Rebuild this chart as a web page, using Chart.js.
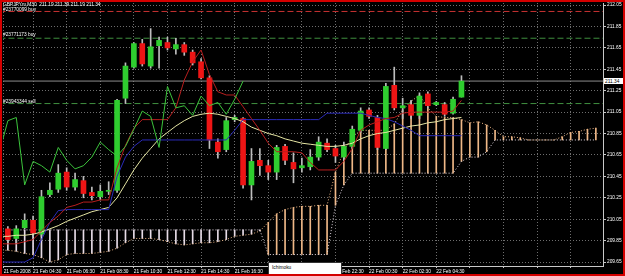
<!DOCTYPE html>
<html>
<head>
<meta charset="utf-8">
<script src="https://cdn.jsdelivr.net/npm/chart.js@4.4.1/dist/chart.umd.min.js"></script>
<style>
html, body { margin: 0; padding: 0; background: #000; }
#frame { position: relative; width: 625px; height: 276px; box-sizing: border-box; border: 2px solid #d40000; background: #000; overflow: hidden; }
#frame canvas { position: absolute; left: 0; top: 0; }
.txt { position: absolute; font-family: "Liberation Sans", Arial, sans-serif; font-size: 4.8px; line-height: 5px; color: #fff; white-space: nowrap; }
#tip { position: absolute; left: 266px; top: 260px; width: 74px; height: 20px; background: #fff; border: 1px solid #333; box-sizing: border-box; }
#tip .txt { color: #000; }
#bidbox { position: absolute; left: 602px; top: 76px; width: 19px; height: 6px; background: #fff; box-sizing: border-box; }
#bidbox .txt { color: #000; left: 1px; top: 0.5px; }
</style>
</head>
<body>
<div id="frame">
  <canvas id="chart" width="621" height="272"></canvas>
  <div class="txt" style="left:1px; top:0px;">GBPJPYm,M30&nbsp; 211.19 211.39 211.19 211.34</div>
  <div class="txt" style="left:1px; top:5px;">#23770099 buy</div>
  <div class="txt" style="left:1px; top:30px;">#23771173 buy</div>
  <div class="txt" style="left:1px; top:97px;">#23943344 sell</div>
  <div id="bidbox"><div class="txt">211.34</div></div>
  <div id="tip"><div class="txt" style="left:3px; top:2px;">Ichimoku</div></div>
</div>
<script>
// GBPJPYm M30, bar 0 = 21 Feb 03:00, last bar = 22 Feb 06:00

const opens = [209.96, 209.87, 209.97, 210.04, 209.91, 210.28, 210.33, 210.49, 210.35, 210.41,
  210.30, 210.26, 210.31, 210.32, 211.18, 211.47, 211.69, 211.48, 211.67, 211.70,
  211.64, 211.68, 211.61, 211.52, 211.37, 210.77, 210.70, 210.98, 210.99, 210.37,
  210.60, 210.55, 210.49, 210.73, 210.58, 210.53, 210.54, 210.63, 210.76, 210.71,
  210.63, 210.73, 210.88, 211.07, 211.00, 210.71, 211.30, 211.09, 211.12, 211.02,
  211.22, 211.12, 211.12, 211.04, 211.19];
const highs = [209.98, 209.99, 210.10, 210.08, 210.32, 210.39, 210.56, 210.53, 210.48, 210.45,
  210.35, 210.37, 210.40, 211.17, 211.51, 211.70, 211.73, 211.83, 211.75, 211.75,
  211.74, 211.70, 211.63, 211.55, 211.39, 210.80, 211.00, 211.02, 211.00, 210.71,
  210.71, 210.60, 210.74, 210.75, 210.67, 210.62, 210.70, 210.82, 210.80, 210.74,
  210.77, 210.92, 211.09, 211.09, 211.02, 211.32, 211.47, 211.18, 211.16, 211.23,
  211.24, 211.15, 211.14, 211.19, 211.39];
const lows = [209.82, 209.82, 209.96, 209.89, 209.89, 210.26, 210.30, 210.32, 210.32, 210.25,
  210.23, 210.23, 210.28, 210.30, 211.13, 211.46, 211.48, 211.46, 211.46, 211.63,
  211.59, 211.58, 211.49, 211.36, 210.71, 210.62, 210.68, 210.96, 210.34, 210.23,
  210.46, 210.42, 210.42, 210.56, 210.39, 210.49, 210.51, 210.60, 210.68, 210.58,
  210.60, 210.71, 210.86, 210.99, 210.70, 210.70, 211.07, 210.99, 210.99, 210.99,
  211.09, 211.11, 211.01, 211.03, 211.19];
const closes = [209.86, 209.96, 210.04, 209.92, 210.26, 210.32, 210.48, 210.35, 210.42, 210.29,
  210.27, 210.31, 210.32, 211.16, 211.48, 211.69, 211.50, 211.66, 211.72, 211.65,
  211.68, 211.61, 211.51, 211.37, 210.79, 210.68, 210.97, 211.00, 210.37, 210.59,
  210.55, 210.49, 210.72, 210.60, 210.52, 210.55, 210.63, 210.77, 210.70, 210.64,
  210.73, 210.89, 211.06, 211.01, 210.72, 211.29, 211.09, 211.11, 211.02, 211.20,
  211.11, 211.14, 211.03, 211.17, 211.34];

// indicator lines, first value sits one bar left of bar 0
const tenkan = [209.82, 209.82, 209.82, 209.84, 209.86, 209.94, 210.02, 210.08, 210.16, 210.18,
  210.21, 210.21, 210.23, 210.23, 210.53, 210.74, 210.90, 210.98, 210.98, 210.98,
  210.98, 211.09, 211.35, 211.52, 211.63, 211.40, 211.24, 211.21, 211.21, 211.10,
  210.99, 210.88, 210.76, 210.68, 210.68, 210.68, 210.67, 210.58, 210.51, 210.51,
  210.51, 210.59, 210.71, 210.88, 210.93, 210.96, 210.99, 211.00, 211.04, 211.05,
  211.05, 211.05, 211.05, 211.05, 211.06, 211.16];
const kijun = [209.65, 209.65, 209.65, 209.65, 209.69, 209.86, 210.02, 210.13, 210.14, 210.14,
  210.14, 210.14, 210.14, 210.14, 210.45, 210.63, 210.73, 210.79, 210.79, 210.79,
  210.79, 210.79, 210.79, 210.79, 210.79, 210.79, 210.79, 210.79, 210.88, 210.98,
  210.98, 210.98, 210.98, 210.98, 210.98, 210.98, 210.98, 210.98, 210.98, 211.04,
  211.04, 211.04, 211.04, 211.04, 211.02, 211.00, 210.99, 210.96, 210.92, 210.88,
  210.83, 210.83, 210.83, 210.83, 210.83, 210.83];
const maLine = [209.89, 209.89, 209.90, 209.90, 209.91, 209.93, 209.96, 209.99, 210.03, 210.06,
  210.09, 210.12, 210.14, 210.16, 210.25, 210.38, 210.51, 210.62, 210.71, 210.80,
  210.86, 210.92, 210.97, 211.01, 211.03, 211.04, 211.03, 211.01, 210.99, 210.96,
  210.91, 210.88, 210.85, 210.83, 210.80, 210.78, 210.76, 210.75, 210.74, 210.73,
  210.73, 210.74, 210.76, 210.80, 210.83, 210.85, 210.86, 210.88, 210.90, 210.92,
  210.93, 210.95, 210.96, 210.98, 210.99, 211.00];
// chikou span, starts one bar left of bar 0
const chikou = [210.68, 210.97, 211.00, 210.37, 210.59, 210.55, 210.49, 210.72, 210.60, 210.52,
  210.55, 210.63, 210.77, 210.70, 210.64, 210.73, 210.89, 211.06, 211.01, 210.72,
  211.29, 211.09, 211.11, 211.02, 211.20, 211.11, 211.14, 211.03, 211.17, 211.34];

// kumo, one bar left of bar 0 up to 16 bars past the last candle
const spanA = [209.76, 209.76, 209.75, 209.73, 209.72, 209.69, 209.65, 209.67, 209.72, 209.73,
  209.73, 209.73, 209.74, 209.75, 209.78, 209.83, 209.87, 209.87, 209.87, 209.86,
  209.84, 209.82, 209.81, 209.82, 209.83, 209.83, 209.84, 209.86, 209.89, 209.90,
  209.91, 209.94, 210.02, 210.10, 210.14, 210.16, 210.17, 210.17, 210.18, 210.18,
  210.49, 210.69, 210.82, 210.88, 210.88, 210.88, 210.88, 210.94, 211.07, 211.15,
  211.21, 211.09, 211.01, 211.00, 211.00, 210.98, 210.95, 210.96, 210.93, 210.88,
  210.82, 210.82, 210.81, 210.79, 210.79, 210.79, 210.79, 210.82, 210.86, 210.87,
  210.89, 210.90];
const spanB = [209.95, 209.95, 209.95, 209.95, 209.95, 209.95, 209.95, 209.95, 209.95, 209.95,
  209.95, 209.95, 209.95, 209.95, 209.95, 209.95, 209.95, 209.95, 209.95, 209.95,
  209.95, 209.95, 209.95, 209.95, 209.95, 209.95, 209.95, 209.95, 209.95, 209.95,
  209.95, 209.95, 209.72, 209.72, 209.72, 209.72, 209.72, 209.72, 209.72, 209.72,
  210.18, 210.37, 210.48, 210.48, 210.48, 210.48, 210.48, 210.48, 210.48, 210.48,
  210.48, 210.48, 210.48, 210.48, 210.48, 210.59, 210.63, 210.63, 210.68, 210.79,
  210.79, 210.79, 210.79, 210.79, 210.79, 210.79, 210.79, 210.79, 210.79, 210.79,
  210.79, 210.79];

// order lines and bid
const orderLevels = [211.99, 211.74, 211.13];
const orderColors = ['#c83232', '#3f8f3f', '#3f8f3f'];
const bidPrice = 211.34;

const priceTicks = [209.65, 209.85, 210.05, 210.25, 210.45, 210.65, 210.85, 211.05, 211.25, 211.45, 211.65, 211.85, 212.05];
const timeTicks = [-0.5, 3, 7, 11, 15, 19, 23, 27, 31, 35, 39, 43, 47, 51, 55, 59, 63, 67];
const timeLabels = ['21 Feb 2008', '21 Feb 04:30', '21 Feb 06:30', '21 Feb 08:30', '21 Feb 10:30',
  '21 Feb 12:30', '21 Feb 14:30', '21 Feb 16:30', '21 Feb 18:30', '21 Feb 20:30', '21 Feb 22:30',
  '22 Feb 00:30', '22 Feb 02:30', '22 Feb 04:30', '', '', '', ''];

const lineStart = -1;

function series(values, start) {
  return values.map((v, k) => ({ x: start + k, y: v }));
}

const font = { family: 'Liberation Sans', size: 4.8 };
const gridColor = '#6e6e6e';

// candles
const bodies = opens.map((o, k) => ({ x: k, y: [o, closes[k]] }));
const bodyColors = opens.map((o, k) => closes[k] >= o ? '#2fcd2f' : '#ee1515');
const wicks = lows.map((l, k) => ({ x: k, y: [l, highs[k]] }));

// kumo bars
const kumo = spanA.map((a, k) => ({ x: lineStart + k, y: [Math.min(a, spanB[k]), Math.max(a, spanB[k])] }));
const kumoColors = spanA.map((a, k) => a >= spanB[k] ? '#efb887' : '#e6dbe6');

const datasets = [];

function addLine(values, start, color, order, dash) {
  datasets.push({
    type: 'line', data: series(values, start), borderColor: color, borderWidth: 1,
    borderDash: dash || [], pointRadius: 0, tension: 0, order: order
  });
}

addLine(chikou, lineStart, '#3cc43c', 1);
addLine(tenkan, lineStart, '#b81e1e', 1);
addLine(kijun, lineStart, '#2a2ab8', 1);
addLine(maLine, lineStart, '#e6e6a4', 1);

datasets.push({ type: 'bar', data: bodies, backgroundColor: bodyColors, barThickness: 5, grouped: false, order: 2 });
datasets.push({ type: 'bar', data: wicks, backgroundColor: '#bdbdbd', barThickness: 1, grouped: false, order: 3 });

orderLevels.forEach((lvl, k) => {
  datasets.push({ type: 'line', data: [{ x: -1, y: lvl }, { x: 72, y: lvl }],
    borderColor: orderColors[k], borderWidth: 1, borderDash: [6, 3], pointRadius: 0, order: 4 });
});
datasets.push({ type: 'line', data: [{ x: -1, y: bidPrice }, { x: 72, y: bidPrice }],
  borderColor: '#8c8c8c', borderWidth: 1, pointRadius: 0, order: 4 });

addLine(spanA, lineStart, '#efb887', 5, [1, 2]);
addLine(spanB, lineStart, '#e6dbe6', 5, [1, 2]);
datasets.push({ type: 'bar', data: kumo, backgroundColor: kumoColors, barThickness: 1, grouped: false, order: 6 });

new Chart(document.getElementById('chart'), {
  type: 'bar',
  data: { datasets: datasets },
  options: {
    responsive: false,
    animation: false,
    events: [],
    layout: { padding: { left: 1, top: 1, right: 0, bottom: 0 } },
    plugins: { legend: { display: false }, tooltip: { enabled: false } },
    scales: {
      x: {
        type: 'linear', min: -0.58, max: 70.85, offset: false,
        afterBuildTicks: s => { s.ticks = timeTicks.map(v => ({ value: v })); },
        afterFit: s => { s.height = 8; s.paddingLeft = 0; s.paddingRight = 0; },
        ticks: {
          autoSkip: false, maxRotation: 0, minRotation: 0, align: 'start', padding: 1,
          color: '#ffffff', font: font,
          callback: (v, i) => timeLabels[i]
        },
        grid: { color: gridColor, offset: false, tickLength: 2, tickColor: '#c8c8c8' },
        border: { color: '#c8c8c8', dash: [1, 2] }
      },
      y: {
        position: 'right', min: 209.613, max: 212.069,
        afterBuildTicks: s => { s.ticks = priceTicks.map(v => ({ value: v })); },
        afterFit: s => { s.width = 20; s.paddingTop = 0; s.paddingBottom = 0; },
        ticks: { color: '#ffffff', font: font, padding: 1, callback: v => v.toFixed(2) },
        grid: { color: gridColor, tickLength: 3, tickColor: '#c8c8c8' },
        border: { color: '#c8c8c8', dash: [1, 2] }
      }
    }
  }
});
</script>
</body>
</html>
